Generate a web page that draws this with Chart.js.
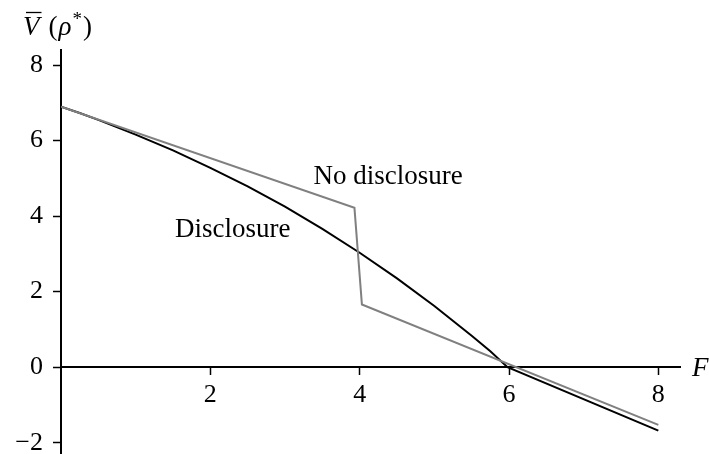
<!DOCTYPE html>
<html>
<head>
<meta charset="utf-8">
<script src="https://cdn.jsdelivr.net/npm/chart.js@4.4.0/dist/chart.umd.min.js"></script>
<style>
  html, body { margin: 0; padding: 0; background: #fff; }
  #wrap { width: 709px; height: 454px; position: relative; }
</style>
</head>
<body>
<div id="wrap"><canvas id="myChart"></canvas></div>
<script>
// values
var discF = [0, 0.25, 0.5, 1, 1.5, 2, 2.5, 3, 3.5, 4, 4.5, 5, 5.5, 5.75, 5.98, 8];
var discV = [6.90, 6.73, 6.55, 6.16, 5.74, 5.28, 4.79, 4.25, 3.66, 3.03, 2.35, 1.62, 0.83, 0.42, 0.0, -1.68];

var noDiscF = [0, 3.93, 4.03, 8];
var noDiscV = [6.90, 4.22, 1.66, -1.53];

var xTicks = [2, 4, 6, 8];
var yTicks = [-2, 0, 2, 4, 6, 8];

var serif = '"Liberation Serif", "DejaVu Serif", serif';

function pts(xs, ys){
	var out = [];
	for(var i in xs){
		out.push({x: xs[i], y: ys[i]});
	}
	return out;
}

var textPlugin = {
	id: 'texts',
	afterDraw: function(chart){
		var ctx = chart.ctx;
		var xs = chart.scales.x, ys = chart.scales.y;
		ctx.save();
		ctx.fillStyle = '#000';
		ctx.textBaseline = 'middle';
		ctx.textAlign = 'center';
		ctx.font = '27px ' + serif;
		ctx.fillText('No disclosure', xs.getPixelForValue(4.38), ys.getPixelForValue(5.04));
		ctx.fillText('Disclosure', xs.getPixelForValue(2.3), ys.getPixelForValue(3.64));

		// F at the end of the horizontal axis
		ctx.textAlign = 'left';
		ctx.textBaseline = 'alphabetic';
		ctx.font = 'italic 27px ' + serif;
		ctx.fillText('F', chart.chartArea.right + 12, ys.getPixelForValue(0) + 9);

		// V-bar (rho*) title
		var bx = 23, by = 35;
		ctx.fillText('V', bx, by);
		var vw = ctx.measureText('V').width;
		ctx.strokeStyle = '#000';
		ctx.lineWidth = 1.3;
		ctx.beginPath();
		ctx.moveTo(bx + 3, 12.5);
		ctx.lineTo(bx + vw + 2, 12.5);
		ctx.stroke();
		var cx = bx + vw + 9;
		ctx.font = '27px ' + serif;
		ctx.fillText('(', cx, by);
		cx += ctx.measureText('(').width;
		ctx.font = 'italic 27px ' + serif;
		ctx.fillText('\u03C1', cx + 1, by);
		cx += ctx.measureText('\u03C1').width + 1;
		ctx.font = '19px ' + serif;
		ctx.fillText('*', cx + 1, by - 10);
		cx += ctx.measureText('*').width + 2;
		ctx.font = '27px ' + serif;
		ctx.fillText(')', cx, by);
		ctx.restore();
	}
};

var ctx = document.getElementById('myChart');

var chart = new Chart(ctx, {
	type: 'line',
	data: {
		datasets: [
			{
				label: 'No disclosure',
				data: pts(noDiscF, noDiscV),
				borderColor: '#808080',
				borderWidth: 2,
				pointRadius: 0,
				tension: 0
			},
			{
				label: 'Disclosure',
				data: pts(discF, discV),
				borderColor: '#000000',
				borderWidth: 2,
				pointRadius: 0,
				tension: 0
			}
		]
	},
	options: {
		responsive: true,
		maintainAspectRatio: false,
		animation: false,
		events: [],
		layout: { padding: { left: 0, right: 29, top: 50, bottom: 0 } },
		plugins: {
			legend: { display: false },
			tooltip: { enabled: false }
		},
		scales: {
			x: {
				type: 'linear',
				position: { y: 0 },
				min: 0,
				max: 8.29,
				afterFit: function(s){ s.height = 0; s.paddingLeft = 0; s.paddingRight = 0; },
				afterBuildTicks: function(s){ s.ticks = xTicks.map(function(v){ return {value: v}; }); },
				grid: { drawOnChartArea: false, tickLength: 7, tickColor: '#000', tickWidth: 1.5 },
				border: { color: '#000', width: 2 },
				ticks: {
					color: '#000',
					padding: 5,
					maxRotation: 0,
					font: { family: serif, size: 26 },
					callback: function(v){ return String(v); }
				}
			},
			y: {
				type: 'linear',
				position: 'left',
				min: -2.3,
				max: 8.4,
				afterFit: function(s){ s.width = 61; s.paddingTop = 0; s.paddingBottom = 0; },
				afterBuildTicks: function(s){ s.ticks = yTicks.map(function(v){ return {value: v}; }); },
				grid: { drawOnChartArea: false, tickLength: 8, tickColor: '#000', tickWidth: 1.5 },
				border: { color: '#000', width: 2 },
				ticks: {
					color: '#000',
					padding: 10,
					font: { family: serif, size: 26 },
					callback: function(v){ return v < 0 ? '\u2212' + Math.abs(v) : String(v); }
				}
			}
		}
	},
	plugins: [textPlugin]
});
</script>
</body>
</html>
